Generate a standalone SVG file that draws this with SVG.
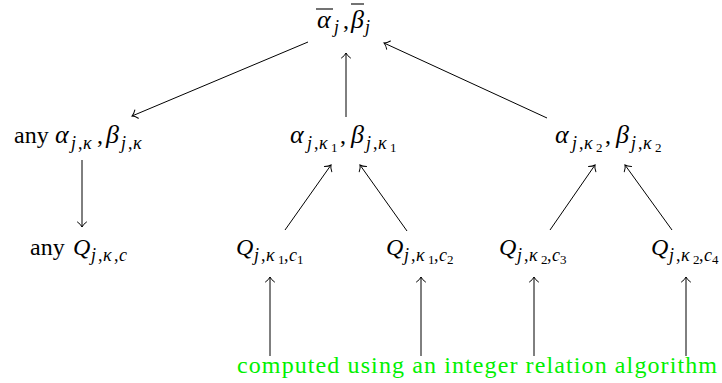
<svg xmlns="http://www.w3.org/2000/svg" width="722" height="383" viewBox="0 0 722 383" font-family="Liberation Serif, serif">
<style>
text { font-size: 24px; fill: #000; }
.i { font-style: italic; }
.gk { font-size: 26px; }
.s { font-size: 18px; }
.ss { font-size: 13px; }
.g { fill: #00f000; }
.c { stroke: #000; stroke-width: 1; fill: none; marker-end: url(#ah); }
.bar { stroke: #000; stroke-width: 1.1; }
</style>
<defs>
<marker id="ah" markerUnits="userSpaceOnUse" markerWidth="14" markerHeight="14" refX="10" refY="7" orient="auto" overflow="visible">
<path d="M5,2.5 Q7.5,6 10,7 Q7.5,8 5,11.5" fill="none" stroke="#000" stroke-width="1" stroke-linecap="round"/>
</marker>
</defs>

<g id="connectors">
<line class="c" x1="308" y1="42" x2="132" y2="116"/>
<line class="c" x1="346" y1="117" x2="346" y2="53"/>
<line class="c" x1="547" y1="118" x2="384" y2="43"/>
<line class="c" x1="82" y1="160" x2="82" y2="227"/>
<line class="c" x1="285" y1="230" x2="331" y2="165"/>
<line class="c" x1="407" y1="231" x2="360" y2="165"/>
<line class="c" x1="550" y1="230" x2="595" y2="165"/>
<line class="c" x1="672" y1="230" x2="625" y2="165"/>
<line class="c" x1="270" y1="356" x2="270" y2="277"/>
<line class="c" x1="421" y1="356" x2="421" y2="277"/>
<line class="c" x1="534" y1="356" x2="534" y2="277"/>
<line class="c" x1="686" y1="356" x2="686" y2="277"/>
</g>

<g id="top">
<line class="bar" x1="316" y1="9" x2="333" y2="9"/>
<line class="bar" x1="351" y1="4" x2="364" y2="4"/>
<text y="28"><tspan x="317" class="i gk">α</tspan><tspan x="334" dy="5" class="s i">j</tspan><tspan x="343" dy="-5">,</tspan><tspan x="351" class="i gk">β</tspan><tspan x="365" dy="5" class="s i">j</tspan></text>
</g>

<g id="n-any-alpha">
<text y="143"><tspan x="14">any</tspan><tspan x="55" class="i gk">α</tspan><tspan x="71" dy="6" class="s i">j</tspan><tspan x="78" class="s">,</tspan><tspan x="83" class="s i">κ</tspan><tspan x="97" dy="-6">,</tspan><tspan x="106" class="i gk">β</tspan><tspan x="121" dy="6" class="s i">j</tspan><tspan x="128" class="s">,</tspan><tspan x="133" class="s i">κ</tspan></text>
</g>

<g id="n-alpha-k1">
<text y="143"><tspan x="290" class="i gk">α</tspan><tspan x="307" dy="6" class="s i">j</tspan><tspan x="314" class="s">,</tspan><tspan x="319" class="s i">κ</tspan><tspan x="331" dy="3" class="ss">1</tspan><tspan x="340" dy="-9">,</tspan><tspan x="351" class="i gk">β</tspan><tspan x="366" dy="6" class="s i">j</tspan><tspan x="373" class="s">,</tspan><tspan x="378" class="s i">κ</tspan><tspan x="390" dy="3" class="ss">1</tspan></text>
</g>

<g id="n-alpha-k2">
<text y="143"><tspan x="555" class="i gk">α</tspan><tspan x="572" dy="6" class="s i">j</tspan><tspan x="579" class="s">,</tspan><tspan x="584" class="s i">κ</tspan><tspan x="596" dy="3" class="ss">2</tspan><tspan x="605" dy="-9">,</tspan><tspan x="616" class="i gk">β</tspan><tspan x="631" dy="6" class="s i">j</tspan><tspan x="638" class="s">,</tspan><tspan x="643" class="s i">κ</tspan><tspan x="655" dy="3" class="ss">2</tspan></text>
</g>

<g id="n-any-q">
<text y="255"><tspan x="30">any</tspan><tspan x="73" class="i">Q</tspan><tspan x="91" dy="6" class="s i">j</tspan><tspan x="98" class="s">,</tspan><tspan x="103" class="s i">κ</tspan><tspan x="114" class="s">,</tspan><tspan x="119" class="s i">c</tspan></text>
</g>

<g id="n-q1">
<text y="255"><tspan x="236" class="i">Q</tspan><tspan x="254" dy="6" class="s i">j</tspan><tspan x="261" class="s">,</tspan><tspan x="266" class="s i">κ</tspan><tspan x="278" dy="3" class="ss">1</tspan><tspan x="284" dy="-3" class="s">,</tspan><tspan x="289" class="s i">c</tspan><tspan x="297" dy="3" class="ss">1</tspan></text>
</g>

<g id="n-q2">
<text y="255"><tspan x="386" class="i">Q</tspan><tspan x="404" dy="6" class="s i">j</tspan><tspan x="411" class="s">,</tspan><tspan x="416" class="s i">κ</tspan><tspan x="428" dy="3" class="ss">1</tspan><tspan x="434" dy="-3" class="s">,</tspan><tspan x="439" class="s i">c</tspan><tspan x="447" dy="3" class="ss">2</tspan></text>
</g>

<g id="n-q3">
<text y="255"><tspan x="499" class="i">Q</tspan><tspan x="517" dy="6" class="s i">j</tspan><tspan x="524" class="s">,</tspan><tspan x="529" class="s i">κ</tspan><tspan x="541" dy="3" class="ss">2</tspan><tspan x="547" dy="-3" class="s">,</tspan><tspan x="552" class="s i">c</tspan><tspan x="560" dy="3" class="ss">3</tspan></text>
</g>

<g id="n-q4">
<text y="255"><tspan x="651" class="i">Q</tspan><tspan x="669" dy="6" class="s i">j</tspan><tspan x="676" class="s">,</tspan><tspan x="681" class="s i">κ</tspan><tspan x="693" dy="3" class="ss">2</tspan><tspan x="699" dy="-3" class="s">,</tspan><tspan x="704" class="s i">c</tspan><tspan x="712" dy="3" class="ss">4</tspan></text>
</g>

<g id="n-note">
<text class="g" x="237" y="373" textLength="480" lengthAdjust="spacing">computed using an integer relation algorithm</text>
</g>
</svg>
